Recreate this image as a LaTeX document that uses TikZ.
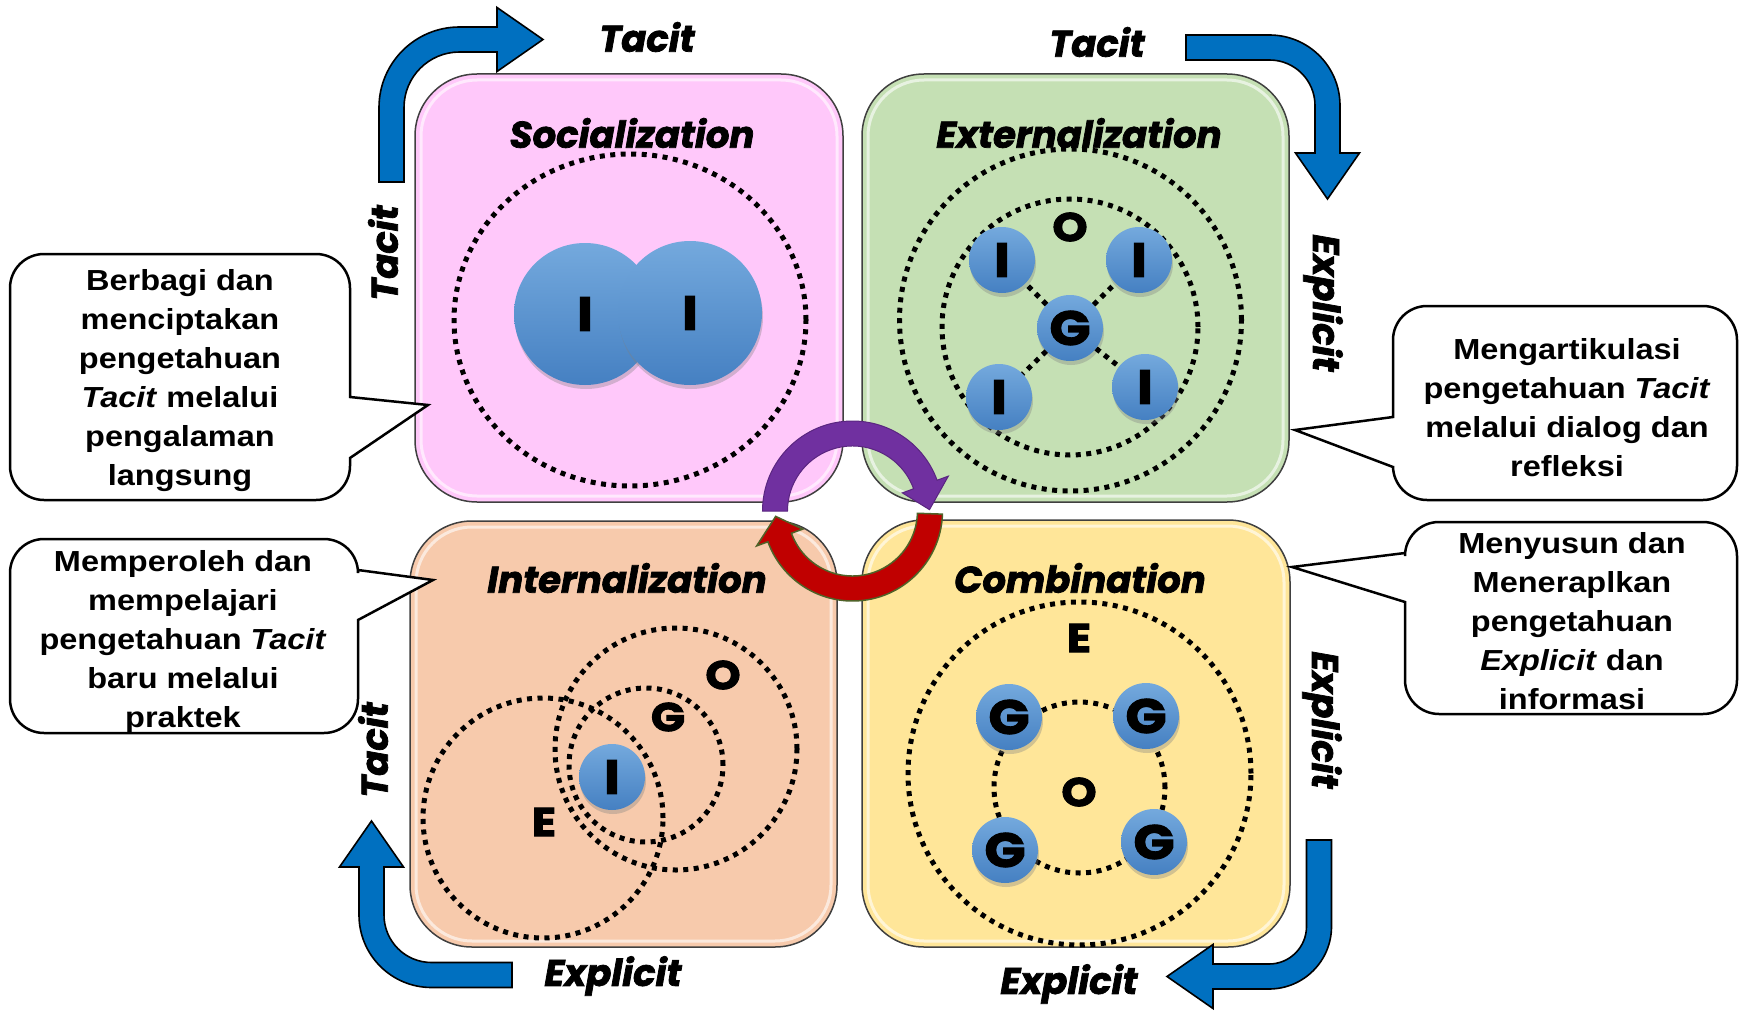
\documentclass[tikz,border=0pt]{standalone}
\usepackage{fontspec}
\usetikzlibrary{shadows}
\newfontfamily\headfont{Poppins}[BoldItalicFeatures={FakeBold=2}]
\newfontfamily\letfont{Poppins}[BoldFeatures={FakeBold=2.5, FakeStretch=1.12}]
\newfontfamily\calfont{Liberation Sans}[FakeStretch=1.12]
\definecolor{pinkq}{HTML}{FFC8FA}
\definecolor{greenq}{HTML}{C5E0B4}
\definecolor{peachq}{HTML}{F7CAAC}
\definecolor{yellowq}{HTML}{FFE699}
\definecolor{arrowblue}{HTML}{0070C0}
\definecolor{cyclepurple}{HTML}{7030A0}
\definecolor{cyclered}{HTML}{C00000}
\definecolor{redline}{HTML}{4F6228}
\definecolor{balltop}{HTML}{74A9DD}
\definecolor{ballbot}{HTML}{4580C2}

% tail x, tail y, rotation, a, b, r
\newcommand{\bentarrow}[6]{%
\begin{scope}[shift={(#1,#2)}, rotate=#3]
\draw[bluearrow] (-12.5,0) -- (-12.5,{#4-#6}) arc[start angle=180,end angle=90,radius={#6+12.5}]
  -- ({#5},{#4+12.5}) -- ({#5},{#4+32}) -- ({#5+46},{#4}) -- ({#5},{#4-32}) -- ({#5},{#4-12.5})
  -- ({#6},{#4-12.5}) arc[start angle=90,end angle=180,radius={#6-12.5}] -- (12.5,0) -- cycle;
\end{scope}}

% left, top, right, bottom, base1, tipx, tipy, base2  (pointer on right side)
\newcommand{\calloutR}[8]{%
\draw[callout] ({#1+34},{-#2}) -- ({#3-34},{-#2}) arc[start angle=90,end angle=0,radius=34]
  -- ({#3},{-#5}) -- ({#6},{-#7}) -- ({#3},{-#8}) -- ({#3},{-#4+34})
  arc[start angle=0,end angle=-90,radius=34] -- ({#1+34},{-#4})
  arc[start angle=-90,end angle=-180,radius=34] -- ({#1},{-#2-34})
  arc[start angle=180,end angle=90,radius=34] -- cycle;}
% pointer on left side
\newcommand{\calloutL}[8]{%
\draw[callout] ({#1+34},{-#2}) -- ({#3-34},{-#2}) arc[start angle=90,end angle=0,radius=34]
  -- ({#3},{-#4+34}) arc[start angle=0,end angle=-90,radius=34] -- ({#1+34},{-#4})
  arc[start angle=-90,end angle=-180,radius=34] -- ({#1},{-#8}) -- ({#6},{-#7}) -- ({#1},{-#5})
  -- ({#1},{-#2-34}) arc[start angle=180,end angle=90,radius=34] -- cycle;}

\begin{document}
\begin{tikzpicture}[x=1pt,y=1pt,
  quad/.style={rectangle, rounded corners=62pt, draw=black!75, line width=1.5pt, inner sep=0pt},
  gloss/.style={draw=white, opacity=0.6, line width=3pt, rounded corners=56pt},
  title/.style={font=\headfont\bfseries\itshape\fontsize{37pt}{40pt}\selectfont, inner sep=0pt},
  side/.style={font=\headfont\bfseries\itshape\fontsize{37pt}{40pt}\selectfont, inner sep=0pt},
  letter/.style={font=\letfont\bfseries\fontsize{40pt}{42pt}\selectfont, inner sep=0pt},
  dotc/.style={draw=black, line width=5pt, dash pattern=on 5pt off 5.5pt},
  orb/.style={circle, inner sep=0pt, top color=balltop, bottom color=ballbot,
     drop shadow={shadow xshift=1pt, shadow yshift=-4pt, opacity=0.35},
     font=\letfont\bfseries\fontsize{48pt}{50pt}\selectfont},
  callout/.style={draw=black, line width=2.5pt, fill=white, line join=miter},
  calltext/.style={font=\calfont\bfseries\fontsize{29pt}{39pt}\selectfont, align=center, inner sep=0pt},
  bluearrow/.style={fill=arrowblue, draw=black, line width=1.6pt, line join=miter},
  cycp/.style={fill=cyclepurple, draw=cyclepurple!80!black, line width=1pt},
  cycr/.style={fill=cyclered, draw=redline, line width=1.5pt}]

\fill[white] (0,0) rectangle (1741,-1014);
\useasboundingbox (0,0) rectangle (1741,-1014);

% quadrants
\node[quad, fill=pinkq, minimum width=428pt, minimum height=428pt] (soc) at (629,-288) {};
\node[quad, fill=greenq, minimum width=427pt, minimum height=428pt] (ext) at (1075.5,-288) {};
\node[quad, fill=peachq, minimum width=427pt, minimum height=426pt] (int) at (623.5,-734) {};
\node[quad, fill=yellowq, minimum width=428pt, minimum height=427pt] (com) at (1076,-733.5) {};
\draw[gloss] (421,-80) rectangle (837,-496);
\draw[gloss] (868,-80) rectangle (1283,-496);
\draw[gloss] (416,-527) rectangle (831,-941);
\draw[gloss] (868,-526) rectangle (1284,-941);

% titles
\node[title] (tsoc) at (632,-133) {Socialization};
\node[title] (text) at (1079,-133) {Externalization};
\node[title] (tint) at (627,-578) {Internalization};
\node[title] (tcom) at (1080,-578) {Combination};

% Socialization
\draw[dotc] (630,-320) ellipse [x radius=176, y radius=166];
\node[orb, minimum size=142pt] (s1) at (585,-314) {I};
\node[orb, minimum size=144pt] (s2) at (690,-313) {I};

% Externalization
\draw[dotc] (1070.5,-320) circle [radius=171];
\draw[dotc] (1070,-327) circle [radius=128];
\node[letter] (eO) at (1070,-227) {O};
\node[orb, minimum size=66pt] (e1) at (1002,-260) {I};
\node[orb, minimum size=66pt] (e2) at (1139,-260) {I};
\node[orb, minimum size=66pt] (eG) at (1070,-328) {G};
\node[orb, minimum size=66pt] (e3) at (999,-397) {I};
\node[orb, minimum size=66pt] (e4) at (1145,-387) {I};
\draw[dotc] (eG) -- (e1);
\draw[dotc] (eG) -- (e2);
\draw[dotc] (eG) -- (e3);
\draw[dotc] (eG) -- (e4);

% Combination
\draw[dotc] (1079.5,-773.5) circle [radius=171.5];
\draw[dotc] (1079.5,-787.5) circle [radius=85.5];
\node[letter] (cE) at (1079,-638) {E};
\node[letter] (cO) at (1079,-792) {O};
\node[orb, minimum size=66pt] (c1) at (1009,-717) {G};
\node[orb, minimum size=66pt] (c2) at (1146,-716) {G};
\node[orb, minimum size=66pt] (c3) at (1005,-850) {G};
\node[orb, minimum size=66pt] (c4) at (1154,-842) {G};

% Internalization
\draw[dotc] (543,-818) circle [radius=120];
\draw[dotc] (676,-749) circle [radius=121];
\draw[dotc] (646,-765) circle [radius=77];
\node[letter] (iE) at (544,-822) {E};
\node[letter] (iG) at (668,-717) {G};
\node[letter] (iO) at (723,-675) {O};
\node[orb, minimum size=66pt] (iI) at (612,-777) {I};

% central cycle
\begin{scope}[shift={(852.5,-511)}]
\draw[cycp] (180:90) arc[start angle=180,end angle=20,radius=90] -- (20:102) -- (1:77)
  -- (20:53) -- (20:65) arc[start angle=20,end angle=180,radius=65] -- cycle;
\draw[cycr] (-2:90) arc[start angle=-2,end angle=-160,radius=90] -- (-160:102) -- (-176:77)
  -- (-160:53) -- (-160:65) arc[start angle=-160,end angle=-2,radius=65] -- cycle;
\end{scope}

% bent arrows
\bentarrow{391.5}{-182}{0}{142.5}{105.5}{68}
\bentarrow{1186}{-47.5}{-90}{141.5}{105.5}{58}
\bentarrow{1319}{-840}{180}{136.5}{106}{50}
\bentarrow{512}{-975}{90}{140.5}{108}{60}

% side labels
\node[side] (lt1) at (647,-37) {Tacit};
\node[side, rotate=90] (lt2) at (383,-253) {Tacit};
\node[side] (lt3) at (1097,-42) {Tacit};
\node[side, rotate=-90] (le1) at (1323,-303) {Explicit};
\node[side, rotate=90] (lt4) at (373,-750) {Tacit};
\node[side] (le2) at (613,-976) {Explicit};
\node[side, rotate=-90] (le3) at (1322,-720) {Explicit};
\node[side] (le4) at (1069,-984) {Explicit};

% callouts
\calloutR{10}{254}{350}{500}{397}{428}{405}{458}
\calloutL{1393}{306}{1737}{500}{417}{1295}{430}{467}
\calloutL{1405}{522}{1737}{714}{553}{1292}{567}{602}
\calloutR{10}{539}{358}{733}{570}{433}{580}{620}

\node[calltext] (k1) at (180,-380.5) {Berbagi dan\\menciptakan\\pengetahuan\\\textit{Tacit} melalui\\pengalaman\\langsung};
\node[calltext] (k2) at (1567,-408) {Mengartikulasi\\pengetahuan \textit{Tacit}\\melalui dialog dan\\refleksi};
\node[calltext] (k3) at (1572,-621.5) {Menyusun dan\\Meneraplkan\\pengetahuan\\\textit{Explicit} dan\\informasi};
\node[calltext] (k4) at (183,-642) {Memperoleh dan\\mempelajari\\pengetahuan \textit{Tacit}\\baru melalui\\praktek};

\end{tikzpicture}
\end{document}
